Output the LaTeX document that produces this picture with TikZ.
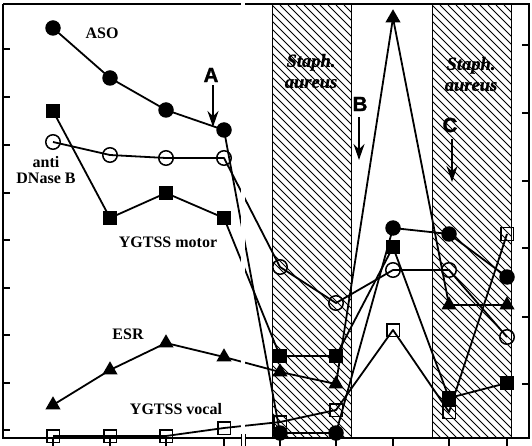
\documentclass[tikz,border=0pt]{standalone}
\usepackage{fontspec}
\setmainfont{Liberation Serif}
\newfontfamily\letterfont{Liberation Sans}[BoldFeatures={FakeBold=1.5}]
\newfontfamily\staphfont{Liberation Serif}[BoldItalicFeatures={FakeBold=0.8}]
\usetikzlibrary{arrows.meta,shapes.geometric}

\tikzset{
    dot/.style={circle, fill, inner sep=0pt, minimum size=15.5pt},
    ring/.style={circle, draw, line width=1.5pt, inner sep=0pt, minimum size=14.5pt},
    blk/.style={rectangle, fill, inner sep=0pt, minimum size=13.5pt},
    hollow/.style={rectangle, draw, line width=1.5pt, inner sep=0pt, minimum size=12.5pt},
    tri/.style={regular polygon, regular polygon sides=3, fill, inner sep=0pt, minimum size=17.5pt},
    series/.style={line width=1.8pt, line join=round},
    frame/.style={line width=1.8pt},
    hatch/.style={line width=0.8pt},
    lbl/.style={font=\bfseries\fontsize{16}{16}\selectfont, align=center},
    staph/.style={font=\staphfont\bfseries\itshape\fontsize{18.5}{21}\selectfont, align=center},
    letter/.style={font=\letterfont\bfseries\fontsize{20.5}{20.5}\selectfont, inner sep=0pt},
    pointer/.style={line width=2.2pt, -{Stealth[length=16pt, width=11pt]}}
}

\begin{document}
\begin{tikzpicture}[x=1pt, y=-1pt]
    \useasboundingbox (0, 0) rectangle (532, 446);
    \foreach \left/\right in {272/351, 432/511} {
        \begin{scope}
            \clip (\left, 5) rectangle (\right, 438);
            \foreach \k in {-440, -432, ..., 80}
                \draw [hatch] ({\left+\k}, 5) -- ++(440, 440);
        \end{scope}
        \draw [line width=1pt] (\left, 5) -- (\left, 438);
        \draw [line width=1pt] (\right, 5) -- (\right, 438);
    }
    \node [staph] (staphB) at (311, 71) {Staph.\\aureus};
    \node [staph] (staphC) at (471, 74) {Staph.\\aureus};

    \foreach \x/\y [count=\i] in {53/28, 110/78, 166/110, 224/130, 280/433, 336/433, 393/228, 449/234, 507/277}
        \node [dot] (aso\i) at (\x, \y) {};
    \foreach \x/\y [count=\i] in {53/142, 110/155, 166/158, 224/158, 280/267, 336/303, 393/270, 449/270, 507/337}
        \node [ring] (dnase\i) at (\x, \y) {};
    \foreach \x/\y [count=\i] in {53/111, 110/218, 166/193, 224/218, 280/356, 336/356, 393/247, 449/398, 507/383}
        \node [blk] (motor\i) at (\x, \y) {};
    \foreach \x/\y [count=\i] in {53/405, 110/370, 166/343, 224/357, 280/372, 336/384, 393/18, 449/305, 507/305}
        \node [tri] (esr\i) at (\x, \y) {};
    \foreach \x/\y [count=\i] in {53/436, 110/436, 166/436, 224/428, 280/422, 336/410, 393/330, 449/412, 507/234}
        \node [hollow] (vocal\i) at (\x, \y) {};

    \foreach \s in {aso, dnase, motor, esr, vocal}
        \draw [series] (\s1.center) \foreach \i in {2, ..., 9} {-- (\s\i.center)};
    \fill [white] (240.5, 7) rectangle (245, 436);

    \draw [frame] (3, 4) -- (3, 438) -- (241.5, 438);
    \draw [frame] (3, 4) -- (241, 4);
    \draw [frame] (245, 4) -- (529, 4) -- (529, 438) -- (245.5, 438);
    \draw [frame] (241.5, 434) -- (241.5, 446);
    \draw [frame] (245.5, 434) -- (245.5, 446);
    \foreach \y in {49, 97, 145, 193, 240, 288, 335, 383, 430}
        \draw [frame] (3, \y) -- (10, \y);
    \foreach \y in {45, 113, 181, 248, 317, 384}
        \draw [frame] (522, \y) -- (529, \y);
    \foreach \x in {53, 110, 166, 224, 280, 336, 393, 449, 507}
        \draw [frame] (\x, 438) -- (\x, 446);

    \node [lbl] (asoText) at (102, 33) {ASO};
    \node [lbl] (dnaseText) at (46, 170) {anti\\DNase B};
    \node [lbl] (motorText) at (168, 242) {YGTSS motor};
    \node [lbl] (esrText) at (128, 334) {ESR};
    \node [lbl] (vocalText) at (176, 409) {YGTSS vocal};

    \node [letter] (A) at (211, 75) {A};
    \node [letter] (B) at (360, 104) {B};
    \node [letter] (C) at (450, 125) {C};
    \coordinate (aTip) at (213, 127);
    \coordinate (bTip) at (359, 160);
    \coordinate (cTip) at (452, 182);
    \draw [pointer] ([xshift=2pt, yshift=-3pt]A.south) -- (aTip);
    \draw [pointer] ([xshift=-1pt, yshift=-6pt]B.south) -- (bTip);
    \draw [pointer] ([xshift=2pt, yshift=-7pt]C.south) -- (cTip);
\end{tikzpicture}
\end{document}
